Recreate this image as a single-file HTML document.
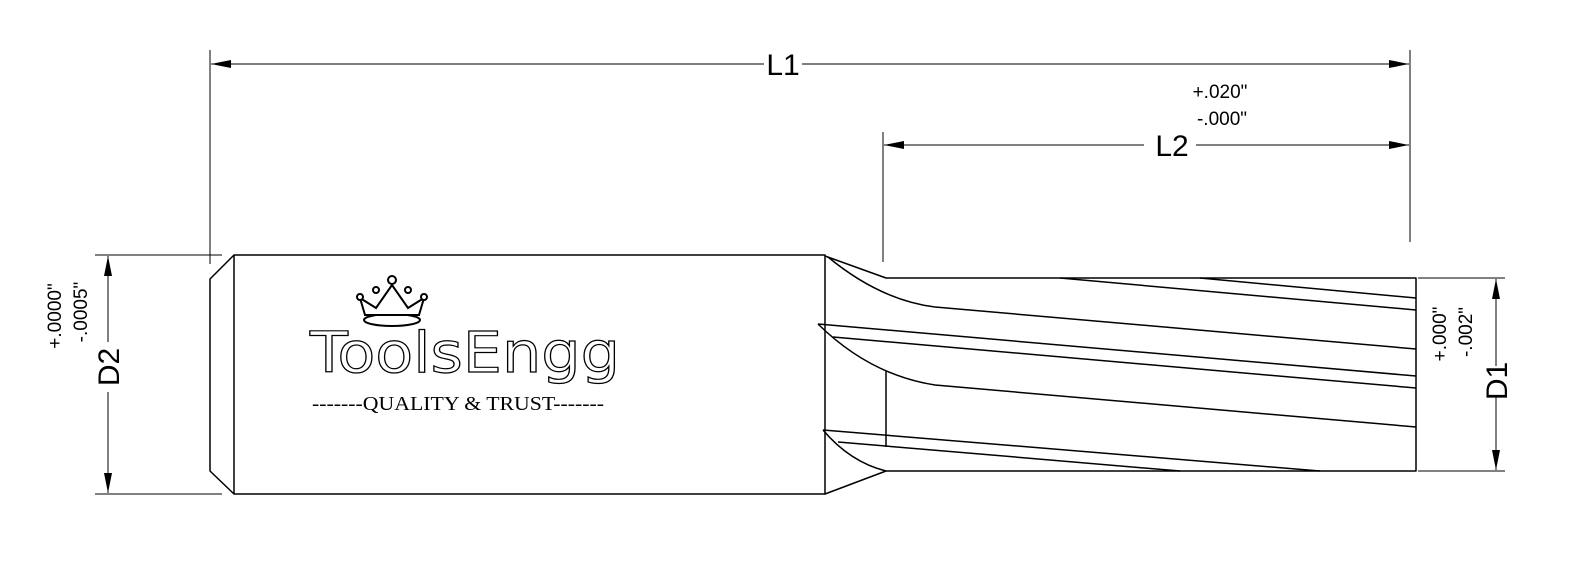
<!DOCTYPE html>
<html><head><meta charset="utf-8"><style>
html,body{margin:0;padding:0;background:#fff;}
svg{display:block;}
text{font-family:"Liberation Sans",sans-serif;fill:#000;}
</style></head><body>
<svg width="1573" height="588" viewBox="0 0 1573 588" xmlns="http://www.w3.org/2000/svg">
<defs>
<marker id="a" viewBox="0 0 20 8" refX="20" refY="4" markerWidth="20" markerHeight="8" markerUnits="userSpaceOnUse" orient="auto-start-reverse"><path d="M0,0 L20,4 L0,8 Z" fill="#000"/></marker>
</defs>
<g stroke="#000" stroke-width="1" fill="none">
<line x1="210" y1="50" x2="210" y2="264"/>
<line x1="1410" y1="50" x2="1410" y2="242"/>
<line x1="883" y1="132" x2="883" y2="262"/>
<line x1="95" y1="255" x2="222" y2="255"/>
<line x1="95" y1="494" x2="222" y2="494"/>
<line x1="1418" y1="278" x2="1505" y2="278"/>
<line x1="1418" y1="471" x2="1505" y2="471"/>
<line x1="211" y1="64" x2="764" y2="64" marker-start="url(#a)"/>
<line x1="802" y1="64" x2="1409" y2="64" marker-end="url(#a)"/>
<line x1="884" y1="145" x2="1144" y2="145" marker-start="url(#a)"/>
<line x1="1196" y1="145" x2="1409" y2="145" marker-end="url(#a)"/>
<line x1="108" y1="256" x2="108" y2="342" marker-start="url(#a)"/>
<line x1="108" y1="392" x2="108" y2="493" marker-end="url(#a)"/>
<line x1="1496" y1="279" x2="1496" y2="366" marker-start="url(#a)"/>
<line x1="1496" y1="396" x2="1496" y2="470" marker-end="url(#a)"/>
</g>
<g stroke="#000" stroke-width="1.5" fill="none" stroke-linejoin="round">
<path d="M234,255 L825,255 L825,494 L234,494 L210,471 L210,279 Z"/>
<line x1="234" y1="255" x2="234" y2="494"/>
<path d="M825,256 L886,278 L1416,278 L1416,471 L886,471 L825,494"/>
<path d="M828,257 Q880,300 935,307 L1416,349"/>
<line x1="1060" y1="278" x2="1416" y2="310"/>
<line x1="1200" y1="278" x2="1416" y2="298"/>
<path d="M818,324 L1416,376"/>
<path d="M818,324 Q870,375 935,385 L1416,427"/>
<line x1="833" y1="337" x2="1416" y2="388"/>
<line x1="886" y1="371" x2="886" y2="447"/>
<line x1="823" y1="430" x2="1320" y2="471"/>
<line x1="838" y1="442" x2="1180" y2="471"/>
<path d="M823,430 Q850,462 886,471"/>
</g>
<text x="783" y="75" font-size="30" text-anchor="middle">L1</text>
<text x="1172" y="156" font-size="30" text-anchor="middle">L2</text>
<text x="1220" y="98" font-size="19" text-anchor="middle">+.020"</text>
<text x="1222" y="125" font-size="19" text-anchor="middle">-.000"</text>
<text transform="translate(119,367) rotate(-90)" font-size="30" text-anchor="middle">D2</text>
<text transform="translate(61,316) rotate(-90)" font-size="19" text-anchor="middle">+.0000"</text>
<text transform="translate(87,312) rotate(-90)" font-size="19" text-anchor="middle">-.0005"</text>
<text transform="translate(1507,381) rotate(-90)" font-size="30" text-anchor="middle">D1</text>
<text transform="translate(1446,334) rotate(-90)" font-size="19" text-anchor="middle">+.000"</text>
<text transform="translate(1472,332) rotate(-90)" font-size="19" text-anchor="middle">-.002"</text>
<g stroke="#000" stroke-width="2" fill="#fff">
<ellipse cx="392" cy="320" rx="28" ry="6"/>
<path d="M365,315 L360,298 L376,308 L392,285 L408,308 L424,298 L419,315 Z"/>
<circle cx="392" cy="280" r="4"/><circle cx="360" cy="297" r="3"/><circle cx="424" cy="297" r="3"/>
<circle cx="376" cy="290" r="3"/><circle cx="408" cy="290" r="3"/>
</g>
<text x="310" y="372" font-size="56" textLength="310" lengthAdjust="spacingAndGlyphs" stroke="#000" stroke-width="1.2" style="font-family:'DejaVu Sans',sans-serif;fill:#fff">ToolsEngg</text>
<text x="312" y="410" font-size="20" textLength="292" lengthAdjust="spacingAndGlyphs" style="font-family:'Liberation Serif',serif">-------QUALITY &amp; TRUST-------</text>
</svg>
</body></html>
